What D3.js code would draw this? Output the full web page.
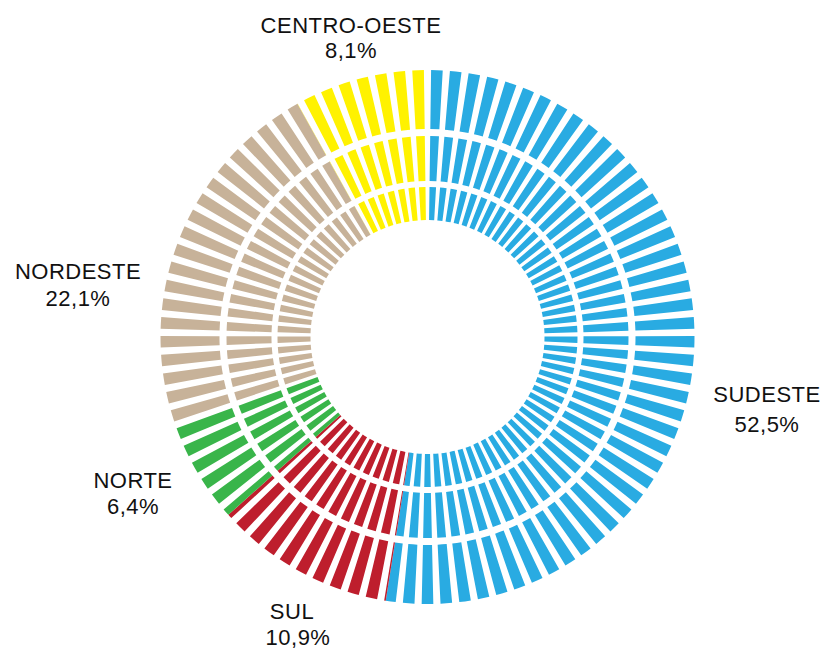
<!DOCTYPE html>
<html>
<head>
<meta charset="utf-8">
<script src="https://cdn.jsdelivr.net/npm/d3@7/dist/d3.min.js"></script>
<style>
  html, body { margin: 0; padding: 0; background: #ffffff; }
  svg { display: block; }
  text { font-family: "Liberation Sans", Arial, Helvetica, sans-serif; fill: #111; }
</style>
</head>
<body>
<svg id="chart" width="827" height="652"></svg>
<script>
// ---- data ----
const categories = ["SUDESTE", "SUL", "NORTE", "NORDESTE", "CENTRO-OESTE"];
const shares = [52.5, 10.9, 6.4, 22.1, 8.1];
const shareLabels = ["52,5%", "10,9%", "6,4%", "22,1%", "8,1%"];

// ---- style / layout ----
const colors = ["#29ABE2", "#BE1E2D", "#39B54A", "#C7B299", "#FFF200"];
const cx = 427.5, cy = 337;
const rings = [
  { inner: 117, outer: 150 },
  { inner: 156, outer: 201 },
  { inner: 208, outer: 267 }
];
const spokeCount = 89;
const barDeg = 2.5;
const labelLayout = {
  "SUDESTE":      { lines: [[767, 402], [767, 432]] },
  "SUL":          { lines: [[292, 619], [298, 645]] },
  "NORTE":        { lines: [[133, 488], [133, 514]] },
  "NORDESTE":     { lines: [[78, 279], [78, 306]] },
  "CENTRO-OESTE": { lines: [[351, 33], [351, 58]] }
};

const svg = d3.select("#chart");
const g = svg.append("g").attr("transform", `translate(${cx},${cy})`);

const angle = d3.scaleLinear().domain([0, d3.sum(shares)]).range([0, 2 * Math.PI]);
const ends = Array.from(d3.cumsum(shares));
const segs = categories.map((c, i) => ({
  cat: c, color: colors[i],
  a0: angle(i === 0 ? 0 : ends[i - 1]),
  a1: angle(ends[i])
}));

const spokeAngle = d3.scaleLinear().domain([0, spokeCount]).range([0, 2 * Math.PI]);
const half = (barDeg / 2) * Math.PI / 180;
const pieces = [];
rings.forEach(r => {
  d3.range(spokeCount).forEach(k => {
    const c = spokeAngle(k + 0.5);
    const s0 = c - half, s1 = c + half;
    segs.forEach(s => {
      const a0 = Math.max(s0, s.a0), a1 = Math.min(s1, s.a1);
      if (a1 > a0) pieces.push({ r, a0, a1, color: s.color });
    });
  });
});

const arc = d3.arc();
g.selectAll("path.bar").data(pieces).join("path")
  .attr("class", "bar")
  .attr("d", d => arc({ innerRadius: d.r.inner, outerRadius: d.r.outer, startAngle: d.a0, endAngle: d.a1 }))
  .attr("fill", d => d.color);

// labels
categories.forEach((c, i) => {
  const L = labelLayout[c].lines;
  [c, shareLabels[i]].forEach((t, j) => {
    svg.append("text")
      .attr("x", L[j][0]).attr("y", L[j][1])
      .attr("text-anchor", "middle")
      .attr("font-size", 22)
      .attr("letter-spacing", "0.5px")
      .text(t);
  });
});
</script>
</body>
</html>
